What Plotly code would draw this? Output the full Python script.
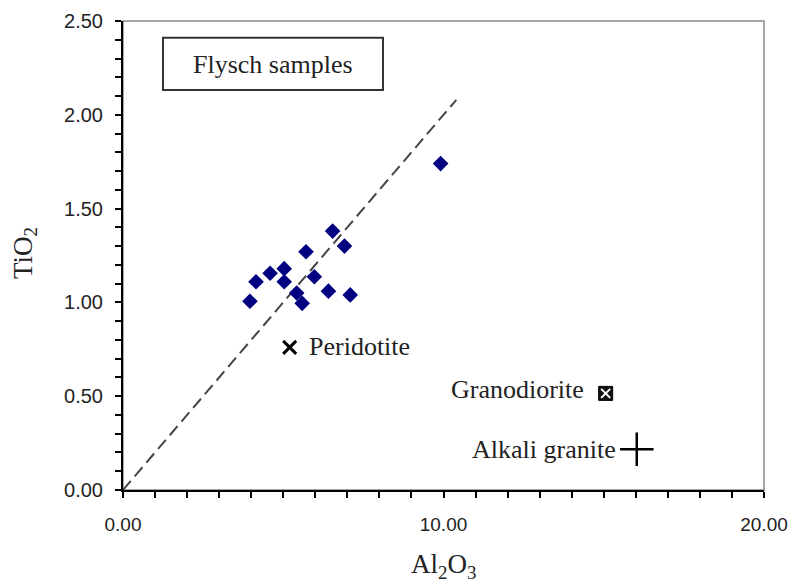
import plotly.graph_objects as go

# Flysch sample compositions (wt%)
flysch_al2o3 = [9.91, 6.54, 6.91, 5.71, 5.03, 4.59, 4.15, 5.03, 5.97, 5.42, 6.41, 7.09, 3.96, 5.59]
flysch_tio2 = [1.74, 1.38, 1.30, 1.27, 1.18, 1.155, 1.11, 1.11, 1.137, 1.05, 1.06, 1.04, 1.006, 0.995]

# Reference rock compositions
ref_names = ["Peridotite", "Granodiorite", "Alkali granite"]
ref_al2o3 = [5.2, 15.06, 16.03]
ref_tio2 = [0.76, 0.515, 0.217]

# Ti/Al reference trend line
trend_al2o3 = [0.0, 10.4]
trend_tio2 = [0.0, 2.08]

x_ticks = [0, 10, 20]
y_ticks = [0, 0.5, 1.0, 1.5, 2.0, 2.5]

SERIF = "Liberation Serif, Times New Roman, serif"
SANS = "Liberation Sans, Arial, sans-serif"

fig = go.Figure()

fig.add_trace(go.Scatter(
    x=trend_al2o3, y=trend_tio2, mode="lines",
    line=dict(color="#444444", width=2, dash="12px,6px"),
    hoverinfo="skip", showlegend=False,
))

fig.add_trace(go.Scatter(
    x=flysch_al2o3, y=flysch_tio2, mode="markers",
    marker=dict(symbol="diamond", size=12, color="#000080", line=dict(width=0)),
    showlegend=False,
))

# Peridotite
fig.add_trace(go.Scatter(
    x=[ref_al2o3[0]], y=[ref_tio2[0]], mode="markers",
    marker=dict(symbol="x-thin", size=13, line=dict(color="black", width=3)),
    showlegend=False,
))
# Granodiorite: checkered square
fig.add_trace(go.Scatter(
    x=[ref_al2o3[1]], y=[ref_tio2[1]], mode="markers",
    marker=dict(symbol="square", size=14, color="#111111", line=dict(color="black", width=1)),
    showlegend=False,
))
fig.add_trace(go.Scatter(
    x=[ref_al2o3[1]], y=[ref_tio2[1]], mode="markers",
    marker=dict(symbol="x-thin", size=9, line=dict(color="white", width=2)),
    showlegend=False,
))
# Alkali granite
fig.add_trace(go.Scatter(
    x=[ref_al2o3[2]], y=[ref_tio2[2]], mode="markers",
    marker=dict(symbol="cross-thin", size=24, line=dict(color="black", width=2.5)),
    showlegend=False,
))

annotations = [
    dict(x=ref_al2o3[0], y=ref_tio2[0], text=ref_names[0], xanchor="left", yanchor="middle",
         xshift=17, yshift=1, showarrow=False, font=dict(family=SERIF, size=26, color="#222")),
    dict(x=ref_al2o3[1], y=ref_tio2[1], text=ref_names[1], xanchor="right", yanchor="middle",
         xshift=-20, yshift=4, showarrow=False, font=dict(family=SERIF, size=26, color="#222")),
    dict(x=ref_al2o3[2], y=ref_tio2[2], text=ref_names[2], xanchor="right", yanchor="middle",
         xshift=-19, yshift=0, showarrow=False, font=dict(family=SERIF, size=26, color="#222")),
    dict(xref="paper", yref="paper", x=0.234, y=0.908, text="Flysch samples",
         xanchor="center", yanchor="middle", showarrow=False,
         font=dict(family=SERIF, size=26, color="#222")),
    dict(xref="paper", yref="paper", x=0.5, y=-0.161, text="Al<sub>2</sub>O<sub>3</sub>",
         xanchor="center", yanchor="middle", showarrow=False,
         font=dict(family=SERIF, size=27, color="#222")),
    dict(xref="paper", yref="paper", x=-0.153, y=0.505, text="TiO<sub>2</sub>", textangle=-90,
         xanchor="center", yanchor="middle", showarrow=False,
         font=dict(family=SERIF, size=27, color="#222")),
]

shapes = [
    # grey plot frame
    dict(type="rect", xref="paper", yref="paper", x0=0, y0=0, x1=1, y1=1,
         line=dict(color="#8a8a8a", width=1.5), layer="below"),
    # label box
    dict(type="rect", xref="paper", yref="paper", x0=0.0624, x1=0.4056, y0=0.8529, y1=0.9644,
         line=dict(color="#333333", width=2), fillcolor="rgba(0,0,0,0)"),
]

fig.update_layout(
    width=793, height=582,
    margin=dict(l=123, r=29, t=21, b=92, autoexpand=False),
    paper_bgcolor="white", plot_bgcolor="white",
    annotations=annotations, shapes=shapes,
    showlegend=False,
)

fig.update_xaxes(
    range=[0, 20], tickvals=x_ticks, tickformat=".2f", automargin=False,
    showline=True, linecolor="black", linewidth=2,
    ticks="outside", ticklen=6, tickwidth=1.5, tickcolor="black",
    minor=dict(dtick=1, ticks="outside", ticklen=6, tickwidth=1.5, tickcolor="black"),
    showgrid=False, zeroline=False,
    tickfont=dict(family=SANS, size=19, color="#222"),
    ticklabelstandoff=10,
)
fig.update_yaxes(
    range=[0, 2.5], tickvals=y_ticks, tickformat=".2f", automargin=False,
    showline=True, linecolor="black", linewidth=2,
    ticks="outside", ticklen=6, tickwidth=1.5, tickcolor="black",
    minor=dict(dtick=0.1, ticks="outside", ticklen=6, tickwidth=1.5, tickcolor="black"),
    showgrid=False, zeroline=False,
    tickfont=dict(family=SANS, size=20, color="#222"),
    ticklabelstandoff=8,
)

fig.write_html("out.html")
